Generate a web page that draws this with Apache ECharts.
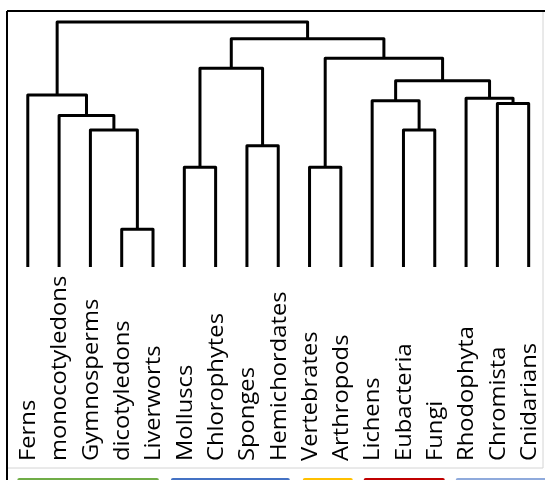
<!DOCTYPE html>
<html>
<head>
<meta charset="utf-8">
<script src="https://cdn.jsdelivr.net/npm/echarts@6/dist/echarts.min.js"></script>
<style>
html,body{margin:0;padding:0;background:#fff;}
#chart{width:545px;height:480px;}
</style>
</head>
<body>
<div id="chart"></div>
<script>
// Leaf labels in dendrogram order
const labels = ['Ferns','monocotyledons','Gymnosperms','dicotyledons','Liverworts',
  'Molluscs','Chlorophytes','Sponges','Hemichordates','Vertebrates','Arthropods',
  'Lichens','Eubacteria','Fungi','Rhodophyta','Chromista','Cnidarians'];
// Linkage: pairs of cluster ids (leaves 0..16, merged clusters 17..)
const mergeLeft  = [3, 5, 9, 7, 2, 12, 1, 15, 11, 14, 0, 25, 18, 19, 29, 27];
const mergeRight = [4, 6,10, 8,17, 13,21, 16, 22, 24,23, 26, 20, 28, 30, 31];
// Merge heights
const mergeHeight = [0.154,0.407,0.407,0.495,0.559,0.559,0.618,0.667,0.679,0.689,0.702,0.760,0.811,0.852,0.932,1.0];
// Colour group bars along the bottom (extent in leaf units)
const groupStart = [-0.335, 4.572, 8.785, 10.73, 13.67];
const groupEnd   = [4.188, 8.37, 10.38, 13.32, 17.0];
const groupColor = ['#70AD47','#4472C4','#FFC000','#C00000','#8FAADC'];

const n = labels.length;
const nodeX = labels.map((_, i) => i);
const nodeH = labels.map(() => 0);
mergeLeft.forEach((a, k) => {
  const b = mergeRight[k];
  nodeX[n + k] = (nodeX[a] + nodeX[b]) / 2;
  nodeH[n + k] = mergeHeight[k];
});
const linkData = mergeLeft.map((a, k) => {
  const b = mergeRight[k];
  return [nodeX[a], nodeH[a], nodeX[b], nodeH[b], mergeHeight[k]];
});

const chart = echarts.init(document.getElementById('chart'), null, {renderer: 'canvas'});
const option = {
  animation: false,
  backgroundColor: '#fff',
  grid: {left: 12.14, top: 22, width: 532.2, height: 245},
  xAxis: {type: 'value', min: -0.5, max: 16.5, show: false},
  yAxis: {type: 'value', min: 0, max: 1, show: false},
  graphic: [
    {type: 'rect', shape: {x: 7, y: 11, width: 536, height: 457}, style: {fill: null, stroke: '#d4d4d4', lineWidth: 1}, z: 0},
    {type: 'line', shape: {x1: 7, y1: 11, x2: 545, y2: 11}, style: {stroke: '#000', lineWidth: 2}, z: 10},
    {type: 'line', shape: {x1: 7, y1: 11, x2: 7, y2: 480}, style: {stroke: '#000', lineWidth: 2}, z: 10}
  ],
  series: [
    {
      type: 'custom',
      data: linkData,
      clip: false,
      renderItem: function (params, api) {
        const p1 = api.coord([api.value(0), api.value(1)]);
        const p2 = api.coord([api.value(0), api.value(4)]);
        const p3 = api.coord([api.value(2), api.value(4)]);
        const p4 = api.coord([api.value(2), api.value(3)]);
        return {type: 'polyline', shape: {points: [p1, p2, p3, p4]},
          style: {stroke: '#000', lineWidth: 3, fill: null, lineJoin: 'round'}};
      }
    },
    {
      type: 'custom',
      data: labels.map((l, i) => [i, 0]),
      clip: false,
      renderItem: function (params, api) {
        const p = api.coord([api.value(0), 0]);
        return {type: 'text', x: p[0] + 1, y: 461, rotation: Math.PI / 2, scaleX: 1.08,
          style: {text: labels[params.dataIndex], fill: '#000', fontSize: 22,
            fontFamily: 'Open Sans', align: 'left', verticalAlign: 'middle'}};
      }
    },
    {
      type: 'custom',
      data: groupStart.map((s, i) => [s, groupEnd[i]]),
      clip: false,
      renderItem: function (params, api) {
        const a = api.coord([api.value(0), 0]);
        const b = api.coord([api.value(1), 0]);
        return {type: 'rect', shape: {x: a[0], y: 478, width: b[0] - a[0], height: 20, r: 2},
          style: {fill: groupColor[params.dataIndex]}};
      }
    }
  ]
};
chart.setOption(option);
</script>
</body>
</html>
